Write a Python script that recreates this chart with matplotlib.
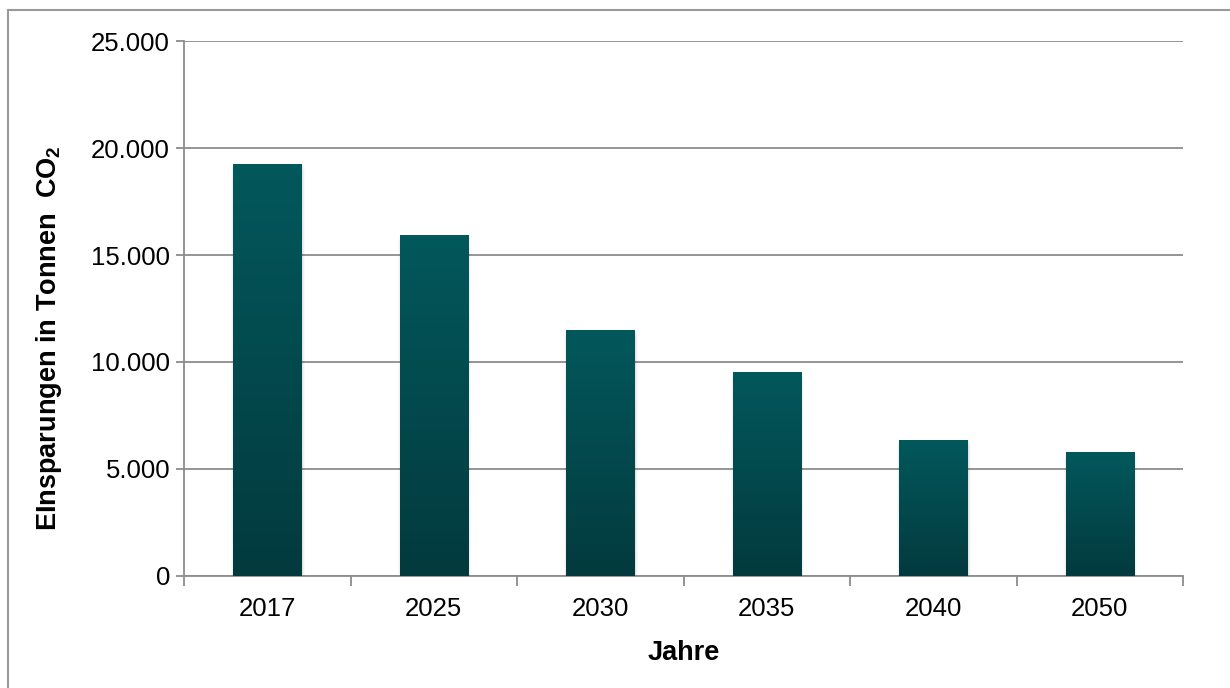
import numpy as np
import matplotlib
matplotlib.use('Agg')
import matplotlib.pyplot as plt
from matplotlib.lines import Line2D
from matplotlib.ticker import FuncFormatter, FixedLocator

years = ['2017', '2025', '2030', '2035', '2040', '2050']
savings = [19250, 15930, 11480, 9530, 6350, 5750]
y_ticks = [0, 5000, 10000, 15000, 20000, 25000]

plt.rcParams['font.family'] = ['Liberation Sans', 'DejaVu Sans']
plt.rcParams['mathtext.fontset'] = 'custom'
plt.rcParams['mathtext.rm'] = 'Liberation Sans:bold'
plt.rcParams['mathtext.bf'] = 'Liberation Sans:bold'

fig = plt.figure(figsize=(12.3, 6.88), dpi=100)
ax = fig.add_axes([0.1496, 0.1628, 0.8122, 0.7776])

x = np.arange(len(years))
bars = ax.bar(x, savings, width=0.41, color='#024B4F', zorder=3)

# vertical gradient + soft shadow on each bar
grad = np.linspace(0, 1, 256).reshape(-1, 1)
cmap = matplotlib.colors.LinearSegmentedColormap.from_list('g', ['#033A3E', '#02585C'])
for b in bars:
    x0, w, h = b.get_x(), b.get_width(), b.get_height()
    for k, a in [(0.03, 0.025), (0.018, 0.035), (0.008, 0.05)]:
        ax.bar(x0 + w / 2 + 0.004, h + 60, width=w + k, bottom=-k * 9000, color='#000000',
               alpha=a, zorder=2, linewidth=0)
    ax.imshow(grad, extent=[x0, x0 + w, 0, h], origin='lower', cmap=cmap,
              aspect='auto', zorder=4)

ax.set_xlim(-0.5, len(years) - 0.5)
ax.set_ylim(0, 25000)
ax.set_aspect('auto')

ax.yaxis.set_major_locator(FixedLocator(y_ticks))
ax.yaxis.set_major_formatter(FuncFormatter(lambda v, p: f'{int(v):,}'.replace(',', '.')))
ax.set_xticks(x)
ax.set_xticklabels(years)
ax.xaxis.set_minor_locator(FixedLocator(np.arange(-0.5, len(years), 1.0)))

ax.grid(axis='y', color='#8C8C8C', linewidth=1.3, zorder=1)
ax.tick_params(axis='y', which='major', length=6, width=1.3, color='#8C8C8C',
               labelsize=18.5, pad=4)
ax.tick_params(axis='x', which='major', length=0, labelsize=18.5, pad=15)
ax.tick_params(axis='x', which='minor', length=7, width=1.3, color='#8C8C8C')

for s in ['top', 'right']:
    ax.spines[s].set_visible(False)
for s in ['left', 'bottom']:
    ax.spines[s].set_color('#8C8C8C')
    ax.spines[s].set_linewidth(1.3)

ax.set_xlabel('Jahre', fontsize=19.5, fontweight='bold', labelpad=14)
ax.set_ylabel(r'EInsparungen in Tonnen  CO$_2$', fontsize=19.5, fontweight='bold')
ax.yaxis.set_label_coords(-0.120, 0.445)

# outer frame (left and top edges visible)
fig.add_artist(Line2D([0.0065, 0.0065], [0.0, 0.9855], color='#999999', lw=1.5,
                      transform=fig.transFigure))
fig.add_artist(Line2D([0.0065, 1.0], [0.9855, 0.9855], color='#999999', lw=1.5,
                      transform=fig.transFigure))

fig.savefig('out.png', dpi=100)
